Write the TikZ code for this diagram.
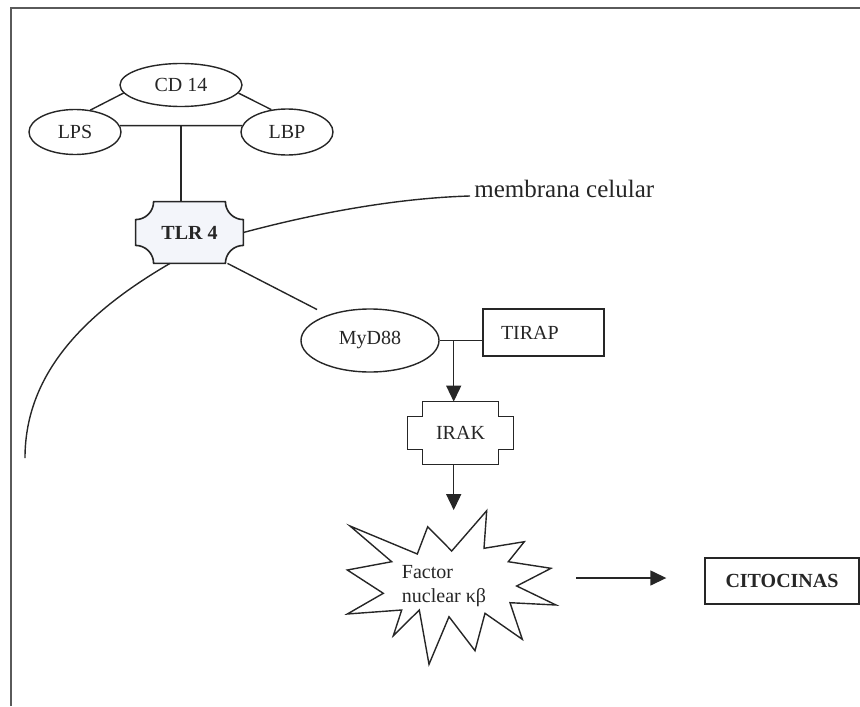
\documentclass[tikz,border=0pt]{standalone}
\usepackage{fontspec}
\setmainfont{Liberation Serif}
\usepackage{tikz}
\usepackage{xcolor}
\usetikzlibrary{arrows.meta,positioning,calc,shapes.geometric,backgrounds}
\definecolor{Ink}{HTML}{262626}
\definecolor{Frame}{HTML}{5A5A5A}
\definecolor{TlrFill}{HTML}{F3F5FA}
% box with concave round corners (node, radius, style)
\newcommand{\notchbox}[3]{\filldraw[#3] ($(#1.north west)+(#2,0)$) -- ($(#1.north east)+(-#2,0)$)
  arc[start angle=180,end angle=270,radius=#2] -- ($(#1.south east)+(0,#2)$)
  arc[start angle=90,end angle=180,radius=#2] -- ($(#1.south west)+(#2,0)$)
  arc[start angle=0,end angle=90,radius=#2] -- ($(#1.north west)+(0,-#2)$)
  arc[start angle=270,end angle=360,radius=#2] -- cycle;}
% box with stepped corners (node, step, style)
\newcommand{\stepbox}[3]{\draw[#3] ($(#1.north west)+(#2,0)$) -- ($(#1.north east)+(-#2,0)$)
  -- ++(0,-#2) -- ++(#2,0) -- ($(#1.south east)+(0,#2)$) -- ++(-#2,0) -- ++(0,-#2)
  -- ($(#1.south west)+(#2,0)$) -- ++(0,#2) -- ++(-#2,0) -- ($(#1.north west)+(0,-#2)$)
  -- ++(#2,0) -- cycle;}
\tikzset{
  oval/.style={ellipse,draw=Ink,line width=0.7pt,inner sep=0pt,text=Ink},
  tagbox/.style={rectangle,draw=Ink,line width=0.7pt,inner sep=0pt,text=Ink},
  plain/.style={inner sep=0pt,text=Ink},
  link/.style={draw=Ink,line width=0.7pt},
  arr/.style={-{Triangle[length=8pt,width=7.5pt]},draw=Ink,line width=0.7pt},
  frame/.style={draw=Frame,line width=1pt}
}

\begin{document}
\begin{tikzpicture}[x=0.5pt,y=-0.5pt]
  \useasboundingbox (0,0) rectangle (860,706);
  \draw[frame] (11,706) -- (11,8) -- (860,8);

  % receptor complex
  \node[oval,minimum width=61pt,minimum height=21.5pt] (cd14) at (181,85) {CD 14};
  \node[oval,minimum width=46pt,minimum height=22.5pt] (lps) at (75,132) {LPS};
  \node[oval,minimum width=46pt,minimum height=23pt] (lbp) at (287,132) {LBP};
  \node[plain,minimum width=53.5pt,minimum height=30.5pt,font=\bfseries] (tlr) at (189.5,232.5) {TLR 4};
  \node[plain,anchor=base west,font=\fontsize{12.5}{15}\selectfont] (mem) at (474,197) {membrana celular};
  \coordinate (memend) at (25,458);

  % signalling
  \node[oval,minimum width=69pt,minimum height=31.5pt] (myd) at (370,340.5) {MyD88};
  \node[tagbox,minimum width=60.5pt,minimum height=23.5pt,text width=42.5pt,align=left] (tirap) at (543.5,332.5) {TIRAP};
  \node[plain,minimum width=52.5pt,minimum height=31pt] (irak) at (460.5,433) {IRAK};
  \node[plain,minimum width=104.5pt,minimum height=77pt] (star) at (451.5,587.5) {};
  \node[plain,align=left] (nfkb) at (444,586) {Factor\\nuclear κβ};
  \node[tagbox,minimum width=77pt,minimum height=23pt,font=\bfseries] (cito) at (782,581) {CITOCINAS};

  \begin{scope}[on background layer]
    \notchbox{tlr}{9pt}{draw=Ink,line width=0.8pt,fill=TlrFill}
    \stepbox{irak}{7.5pt}{link}
  \end{scope}

  \draw[link] (350,526) -- (417.3,554) -- (427.7,526.7) -- (451.7,551) -- (486.7,510.7)
    -- (484,548.3) -- (524.3,541.7) -- (508.3,561.7) -- (551,568.3) -- (516.7,586)
    -- (556,605) -- (510,602.7) -- (522.3,639.3) -- (485,613.3) -- (475,650.7)
    -- (449,616.7) -- (429,664.3) -- (419.3,610) -- (393.3,635.7) -- (401.7,610)
    -- (347.3,614) -- (383.3,593.3) -- (347.3,570) -- (391.7,561.7) -- cycle;

  % connectors
  \draw[link] (cd14.188) -- (lps.55);
  \draw[link] (cd14.352) -- (lbp.125);
  \draw[link] (lps.8) -- (lbp.172);
  \draw[link] (cd14 |- lps.8) -- (cd14 |- tlr.north);
  \draw[link] (tlr.east) .. controls (320,212) and (400,198) .. ($(mem.base west)+(-4,-1)$);
  \draw[link] ($(tlr.south)+(-19.5,0)$) .. controls (90,310) and (25,370) .. (memend);
  \draw[link] ($(tlr.south)+(38,0)$) -- ($(myd.center)+(-53,-31)$);
  \draw[link] (myd.east) -- (tirap.west |- myd.east);
  \coordinate (jn) at ($(myd.east)+(14,0)$);
  \draw[arr] (jn) -- (jn |- irak.north);
  \draw[arr] (jn |- irak.south) -- (jn |- star.north);
  \draw[arr,shorten <=10pt,shorten >=19pt] ($(star.east |- cito.west)+(0,-3)$) -- ($(cito.west)+(0,-3)$);
\end{tikzpicture}
\end{document}
